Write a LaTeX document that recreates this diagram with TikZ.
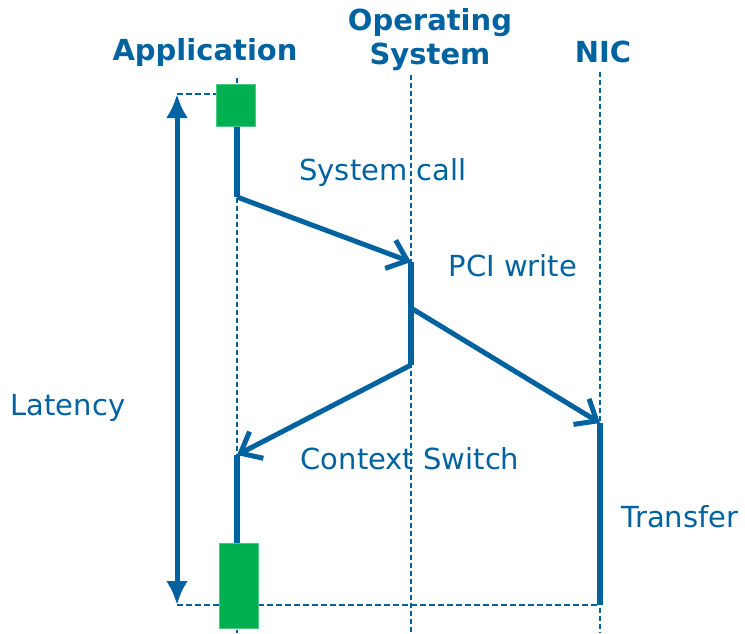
\documentclass[tikz,border=0pt]{standalone}
\usepackage{fontspec}
\setmainfont{DejaVu Sans}
\usetikzlibrary{arrows.meta}
\definecolor{seqblue}{RGB}{0,99,160}
\definecolor{actgreen}{RGB}{0,176,80}
\begin{document}
\begin{tikzpicture}[x=1pt,y=-1pt,
  lifeline/.style={draw=seqblue,line width=2pt,dash pattern=on 5pt off 3pt},
  guide/.style={draw=seqblue,line width=2.4pt,dash pattern=on 6pt off 3pt},
  active/.style={draw=seqblue,line width=5.5pt},
  msg/.style={draw=seqblue,line width=5pt,-{Straight Barb[length=18pt,width=30pt,line width=5pt]}},
  span/.style={draw=seqblue,line width=5pt,{Latex[length=24pt,width=22pt]}-{Latex[length=24pt,width=22pt]}},
  actbox/.style={fill=actgreen,draw=actgreen!70!white,line width=0.8pt,inner sep=0pt,minimum width=#1},
  head/.style={text=seqblue,font=\fontsize{29}{34}\selectfont\bfseries,align=center,inner sep=0pt},
  lbl/.style={text=seqblue,font=\fontsize{29}{33}\selectfont,inner sep=0pt}]
\useasboundingbox (0,0) rectangle (745,633);

% column headers
\node[head] (happ) at (205,52) {Application};
\node[head] (hos) at (430,40) {Operating\\System};
\node[head] (hnic) at (603,52) {NIC};

% lifelines
\coordinate (appT) at (237,78);  \coordinate (appB) at (237,633);
\coordinate (osT) at (411,75);   \coordinate (osB) at (411,633);
\coordinate (nicT) at (600,72);  \coordinate (nicB) at (600,633);
\draw[lifeline] (appT) -- (appB);
\draw[lifeline] (osT) -- (osB);
\draw[lifeline] (nicT) -- (nicB);

% event points
\coordinate (a1) at (237,126);
\coordinate (a2) at (237,197);
\coordinate (o1) at (411,262);
\coordinate (o2) at (411,308);
\coordinate (o3) at (411,365);
\coordinate (a3) at (237,455);
\coordinate (a4) at (237,543);
\coordinate (n1) at (600,423);
\coordinate (n2) at (600,605);

% latency guides
\coordinate (latT) at (177,94);
\coordinate (latB) at (177,605);
\coordinate (boxL) at (216,94);
\draw[guide] (latT) -- (boxL);
\draw[guide] (latB) -- (n2);

% activations
\draw[active] (a1) -- (a2);
\draw[active] (o1) -- (o3);
\draw[active] (a3) -- (a4);
\draw[active] (n1) -- (n2);

% messages
\draw[msg] (a2) -- (o1);
\draw[msg] (o2) -- (n1);
\draw[msg] (o3) -- (a3);

% green boxes
\node[actbox=39pt,minimum height=42pt] (box1) at (235.5,105) {};
\node[actbox=39pt,minimum height=85pt] (box2) at (238.5,585.5) {};

% latency span
\draw[span] (latT) -- (latB);

% labels
\node[lbl] (lsys) at (383,172) {System call};
\node[lbl] (lpci) at (513,266) {PCI write};
\node[lbl] (llat) at (68,408) {Latency};
\node[lbl] (lctx) at (410,459) {Context Switch};
\node[lbl] (ltr) at (680,517) {Transfer};
\end{tikzpicture}
\end{document}
